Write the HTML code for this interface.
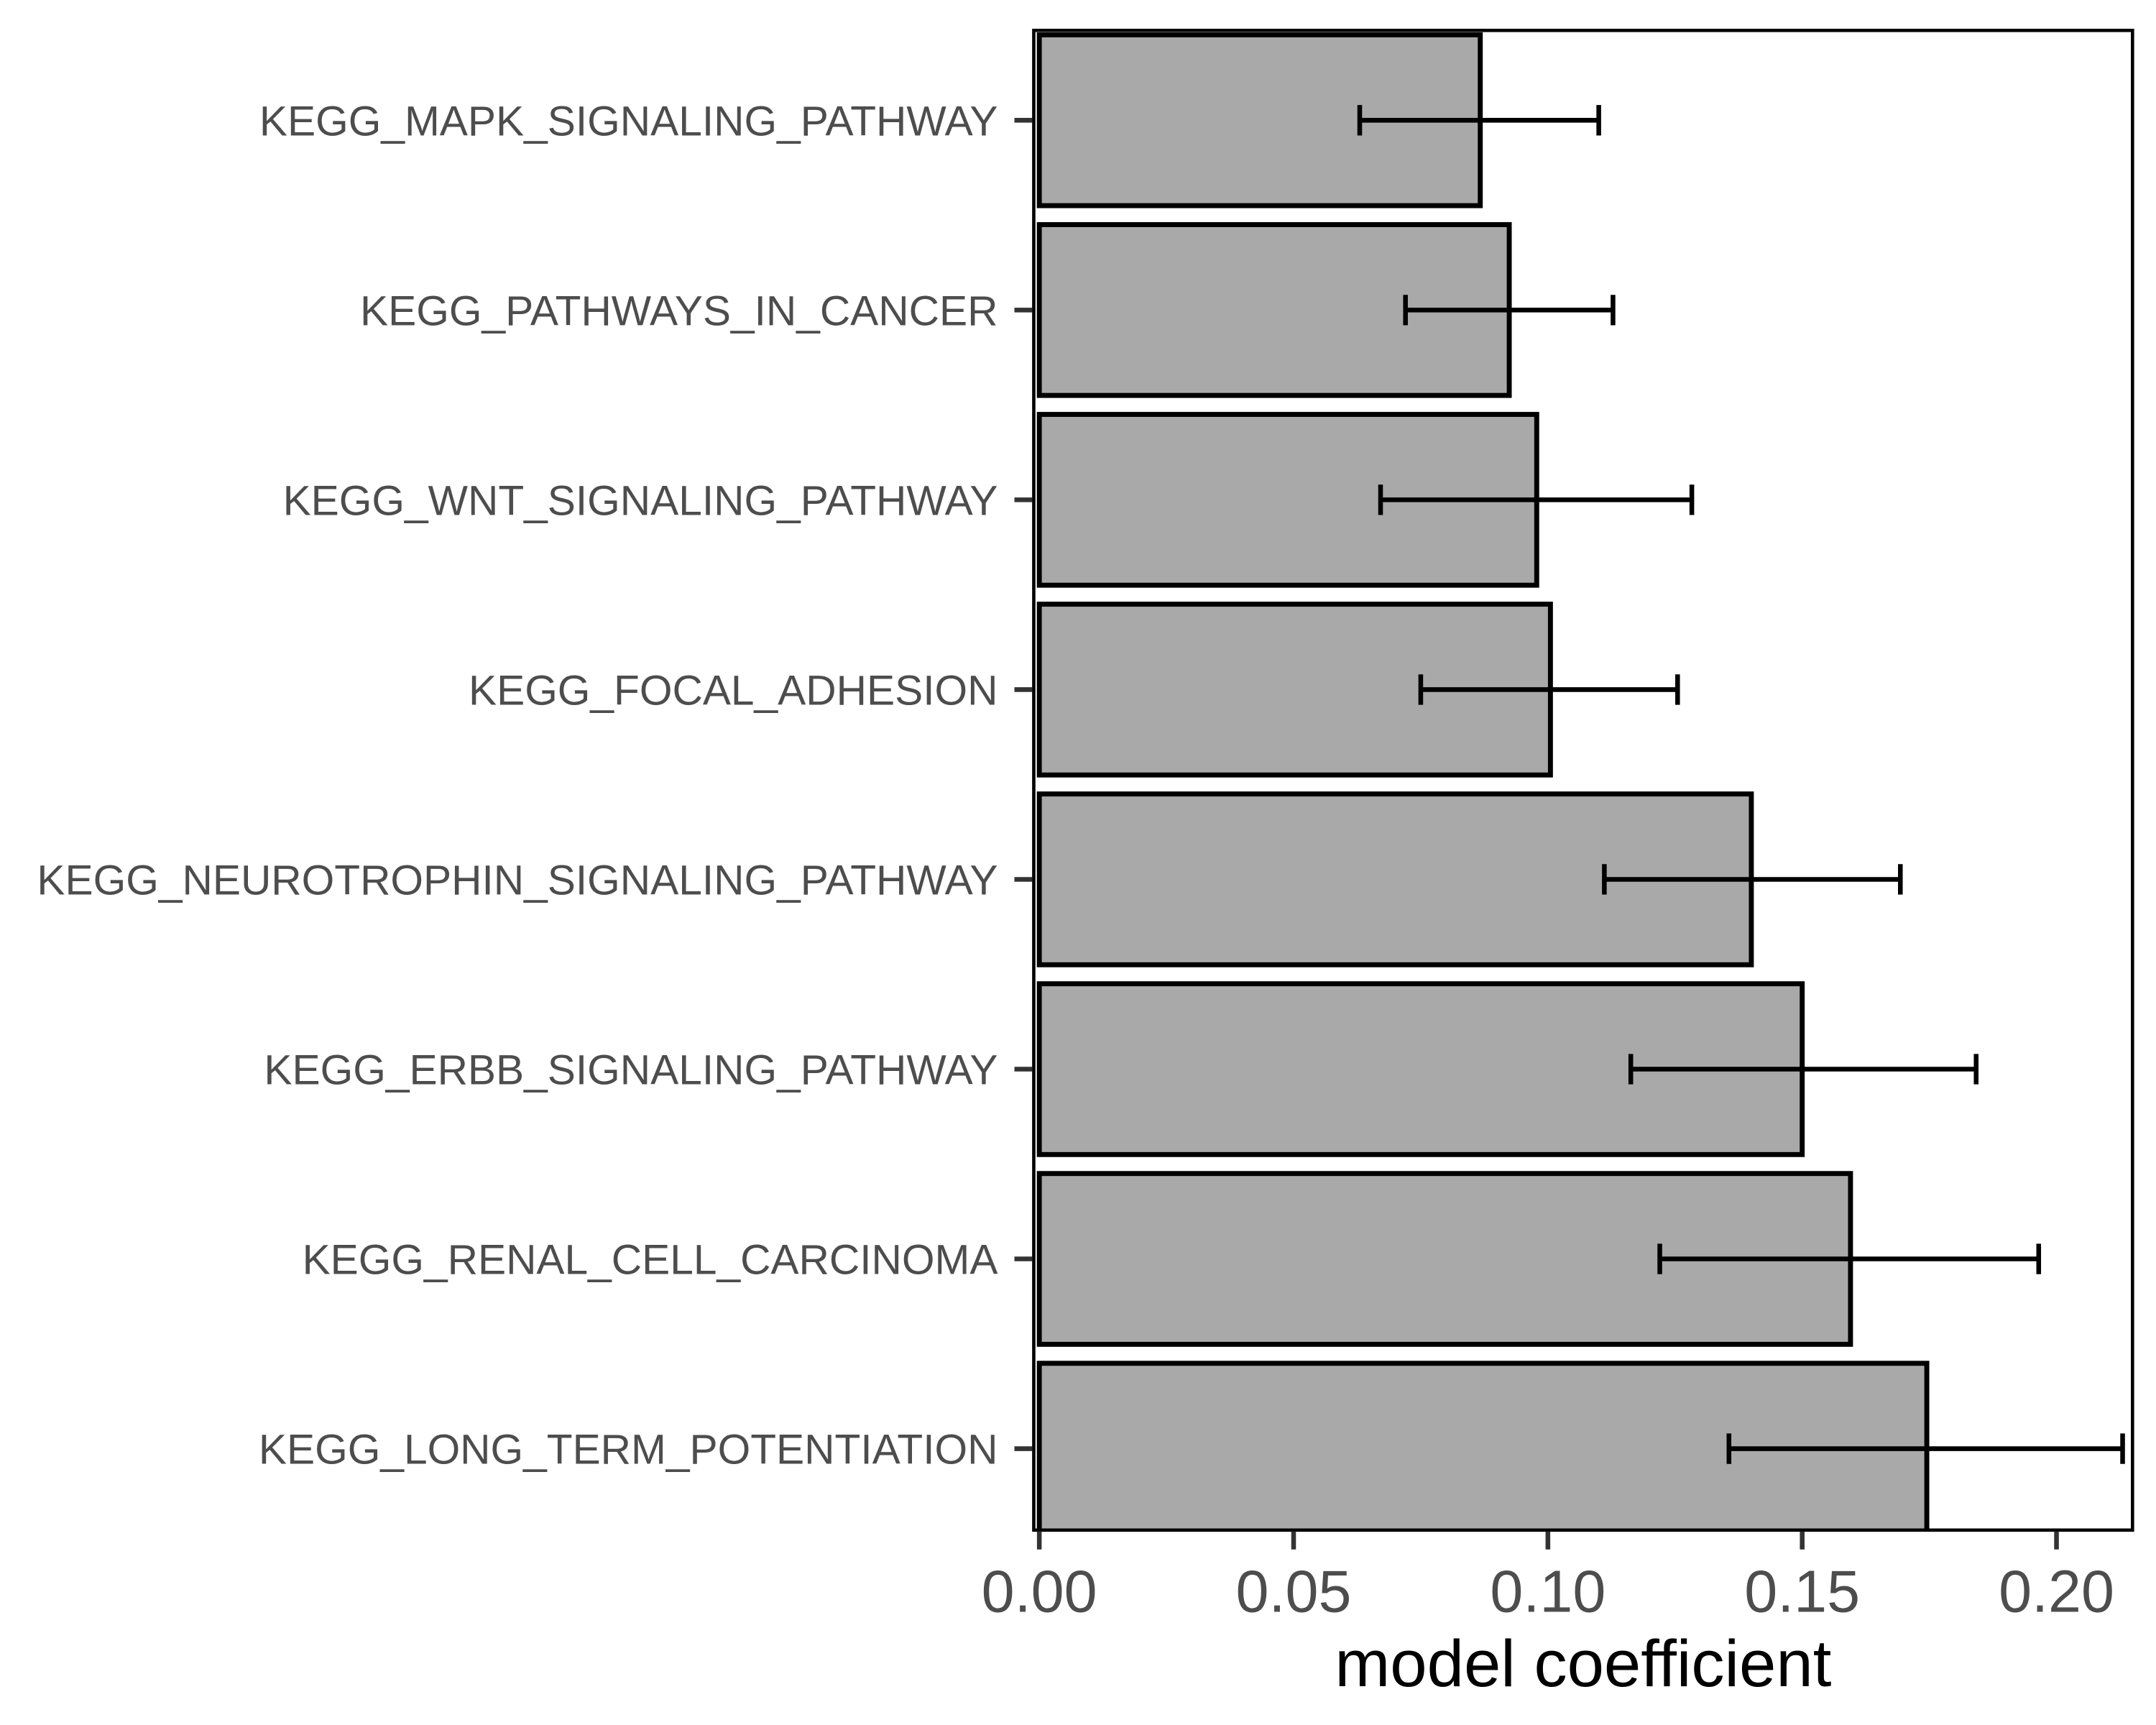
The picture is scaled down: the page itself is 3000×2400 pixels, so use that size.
<!DOCTYPE html>
<html><head><meta charset="utf-8">
<style>html,body{margin:0;padding:0;background:#fff}svg{display:block}</style>
</head><body>
<svg id="chart" width="3000" height="2400" viewBox="0 0 1560 1248" xmlns="http://www.w3.org/2000/svg" font-family="Liberation Sans, sans-serif"></svg>
<script>
const categories = ["KEGG_MAPK_SIGNALING_PATHWAY","KEGG_PATHWAYS_IN_CANCER","KEGG_WNT_SIGNALING_PATHWAY","KEGG_FOCAL_ADHESION","KEGG_NEUROTROPHIN_SIGNALING_PATHWAY","KEGG_ERBB_SIGNALING_PATHWAY","KEGG_RENAL_CELL_CARCINOMA","KEGG_LONG_TERM_POTENTIATION"];
const values = [0.0867,0.0924,0.0978,0.1005,0.1400,0.1500,0.1595,0.1745];
const lower = [0.0630,0.0720,0.0671,0.0750,0.1111,0.1163,0.1220,0.1356];
const upper = [0.1100,0.1128,0.1283,0.1255,0.1693,0.1842,0.1965,0.2130];
const xTicks = [0,0.05,0.10,0.15,0.20];
const xTickLabels = ["0.00","0.05","0.10","0.15","0.20"];

const svg = document.getElementById('chart');
const NS = 'http://www.w3.org/2000/svg';
const L = 748, R = 1543, T = 22, B = 1107;
const x = v => 752 + v * 3680;
const y = i => 87 + i * 137.3;
const bandH = 137.3 * 0.9;
function mk(tag, attrs, parent) {
  const e = document.createElementNS(NS, tag);
  for (const k in attrs) e.setAttribute(k, attrs[k]);
  (parent || svg).appendChild(e);
  return e;
}
const clip = mk('clipPath', {id: 'pc'});
mk('rect', {x: L, y: T, width: R - L, height: B - T}, clip);
const g = mk('g', {'clip-path': 'url(#pc)'});


categories.forEach((c, i) => {
  const r = mk('rect', {x: x(0), y: y(i) - bandH / 2, width: x(values[i]) - x(0), height: bandH, fill: '#a9a9a9', stroke: '#000', 'stroke-width': 3.6}, g);
  
  
  const eb = mk('path', {d: `M${x(lower[i])},${y(i)}H${x(upper[i])}M${x(lower[i])},${y(i) - 11}V${y(i) + 11}M${x(upper[i])},${y(i) - 11}V${y(i) + 11}`, stroke: '#000', 'stroke-width': 3.4, fill: 'none'}, g);
  
  
});
const border = mk('rect', {x: L, y: T, width: R - L, height: B - T, fill: 'none', stroke: '#000', 'stroke-width': 2.4});


categories.forEach((c, i) => {
  const tk = mk('line', {x1: 734, x2: 747, y1: y(i), y2: y(i), stroke: '#333', 'stroke-width': 3.4});
  
  
  const t = mk('text', {x: 722, y: y(i) + 11, 'text-anchor': 'end', 'font-size': 30.5, fill: '#4d4d4d'});
  t.textContent = c;
  
  
});
xTicks.forEach((v, i) => {
  const tk = mk('line', {x1: x(v), x2: x(v), y1: 1108, y2: 1121, stroke: '#333', 'stroke-width': 3.4});
  
  
  const t = mk('text', {x: x(v), y: 1166, 'text-anchor': 'middle', 'font-size': 43, fill: '#4d4d4d'});
  t.textContent = xTickLabels[i];
  
  
});
const title = mk('text', {x: (L + R) / 2, y: 1220, 'text-anchor': 'middle', 'font-size': 48, fill: '#000'});
title.textContent = 'model coefficient';


</script>
</body></html>
